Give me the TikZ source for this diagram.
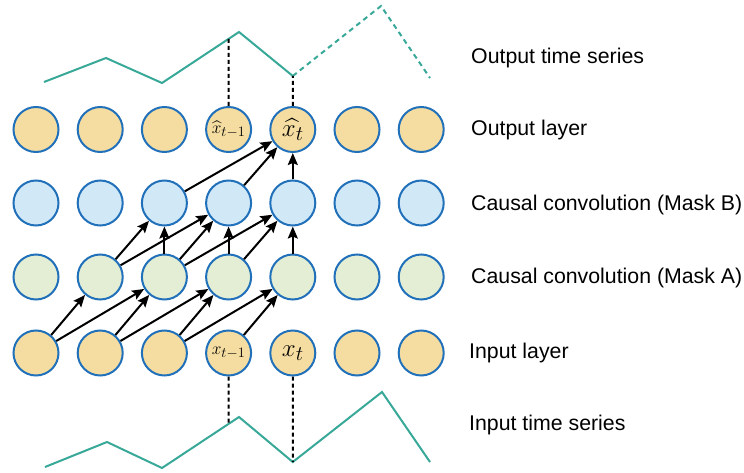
\documentclass[tikz,border=0pt]{standalone}
\usepackage[no-math]{fontspec}
\usepackage{amsmath}
\usetikzlibrary{arrows.meta}
\newfontfamily\labelfont{Liberation Sans}
\definecolor{unitline}{RGB}{33,112,186}
\definecolor{warmfill}{RGB}{245,221,162}
\definecolor{coolfill}{RGB}{209,232,247}
\definecolor{leaffill}{RGB}{227,238,213}
\definecolor{series}{RGB}{56,168,152}

\begin{document}
\begin{tikzpicture}[x=1pt,y=-1pt,>={Stealth[length=12pt,width=10pt,inset=2pt]},
    unit/.style={circle,draw=unitline,line width=2pt,minimum size=45pt,inner sep=0pt},
    layername/.style={anchor=west,inner sep=0pt,font=\labelfont\fontsize{21.3}{24}\selectfont},
    link/.style={->,line width=2pt},
    tick/.style={dash pattern=on 4pt off 3pt,line width=2pt}]
    \useasboundingbox (0,0) rectangle (744,473);
    % four layers of units
    \foreach \i/\txt in {1/{},2/{},3/{},4/{\fontsize{19}{19}\selectfont$\widehat{x}_{t-1}$},5/{\fontsize{28}{28}\selectfont$\widehat{x_t}$},6/{},7/{}}{
      \node[unit,fill=warmfill] (out\i) at ({36+64.2*(\i-1)},129.5) {\txt};
      \node[unit,fill=coolfill] (mb\i) at ({36+64.2*(\i-1)},203) {};
      \node[unit,fill=leaffill] (ma\i) at ({36+64.2*(\i-1)},277) {};
    }
    \foreach \i/\txt in {1/{},2/{},3/{},4/{\fontsize{19}{19}\selectfont$x_{t-1}$},5/{\fontsize{28}{28}\selectfont$x_t$},6/{},7/{}}{
      \node[unit,fill=warmfill] (in\i) at ({36+64.2*(\i-1)},353) {\txt};
    }
    % input -> mask A
    \foreach \a/\b in {1/2,1/3,2/3,2/4,3/4,3/5,4/5}{
      \draw[link] (in\a) -- (ma\b);
    }
    % mask A -> mask B
    \foreach \a/\b in {2/3,3/3,2/4,3/4,4/4,3/5,4/5,5/5}{
      \draw[link] (ma\a) -- (mb\b);
    }
    % mask B -> output
    \foreach \a in {3,4,5}{
      \draw[link] (mb\a) -- (out5);
    }
    % output time series
    \coordinate (ohit4) at (228.6,39);
    \coordinate (ohit5) at (292.8,76);
    \draw[series,line width=2pt] (44,82) -- (106,58) -- (162,83) -- (239,32) -- (ohit5);
    \draw[series,line width=2pt,dash pattern=on 5pt off 4pt] (ohit5) -- (381,6) -- (430,78);
    \draw[tick] (out4.north) -- (ohit4);
    \draw[tick] (out5.north) -- (ohit5);
    % input time series
    \coordinate (ihit4) at (228.6,424);
    \coordinate (ihit5) at (292.8,462);
    \draw[series,line width=2pt] (45,467) -- (107,442) -- (162,468) -- (239,417) -- (ihit5) -- (382,392) -- (430,462);
    \draw[tick] (in4.south) -- (ihit4);
    \draw[tick] (in5.south) -- (ihit5);
    % layer names
    \node[layername] (nots) at (471,58) {Output time series};
    \node[layername] (nout) at (471,130) {Output layer};
    \node[layername] (nmb) at (471,205) {Causal convolution (Mask B)};
    \node[layername] (nma) at (471,278) {Causal convolution (Mask A)};
    \node[layername] (nin) at (469,353) {Input layer};
    \node[layername] (nits) at (469,425) {Input time series};
\end{tikzpicture}
\end{document}
